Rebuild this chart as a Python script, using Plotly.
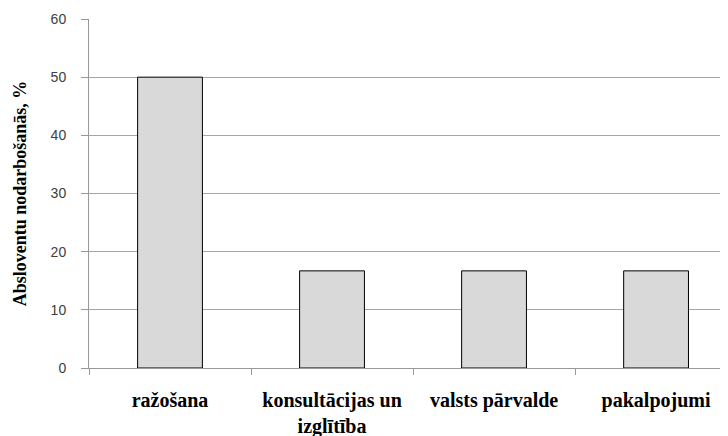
import plotly.graph_objects as go

categories = ["ražošana", "konsultācijas un<br>izglītība", "valsts pārvalde", "pakalpojumi"]
values = [50, 16.7, 16.7, 16.7]
y_ticks = [0, 10, 20, 30, 40, 50, 60]
y_title = "Absloventu nodarbošanās, %"

fig = go.Figure()
fig.add_trace(go.Bar(
    x=categories, y=values,
    marker=dict(color="#d9d9d9", line=dict(color="#000000", width=1)),
    width=0.4,
))

# page body has an 8px default margin; compensate in figure size/margins
fig.update_layout(
    width=720, height=428,
    margin=dict(l=81, r=0, t=11, b=68),
    paper_bgcolor="white", plot_bgcolor="white",
    showlegend=False,
    bargap=0.6,
)
fig.update_xaxes(
    type="category",
    range=[-0.5, 3.444],
    automargin=False,
    showgrid=False,
    showline=True, linecolor="#999999", linewidth=1,
    ticks="outside", tickson="boundaries", ticklen=6, tickcolor="#999999",
    tickfont=dict(family="Liberation Serif, Times New Roman, serif", size=20,
                  color="#000000", weight="bold"),
    ticklabelstandoff=14,
    zeroline=False,
)
fig.update_yaxes(
    range=[0, 60],
    tickvals=y_ticks,
    automargin=False,
    showgrid=True, gridcolor="#a6a6a6", gridwidth=1,
    showline=True, linecolor="#999999", linewidth=1,
    ticks="outside", ticklen=7, tickcolor="#999999",
    tickfont=dict(family="Liberation Sans, Arial, sans-serif", size=14, color="#404040"),
    ticklabelstandoff=12,
    zeroline=False,
    title=dict(text=y_title,
               font=dict(family="Liberation Serif, Times New Roman, serif", size=18,
                         color="#000000", weight="bold"),
               standoff=19),
)
fig.write_html("out.html")
